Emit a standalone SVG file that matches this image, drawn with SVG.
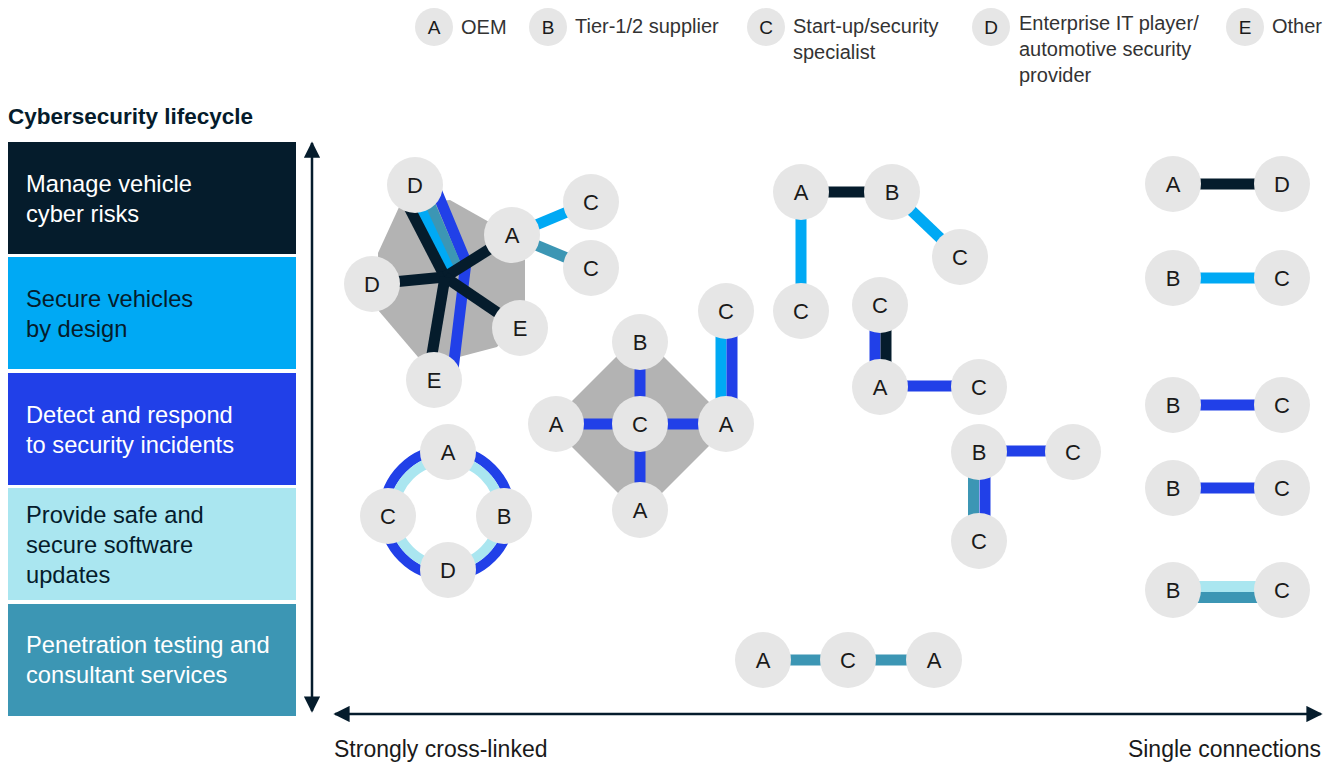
<svg xmlns="http://www.w3.org/2000/svg" width="1340" height="762" viewBox="0 0 1340 762">
<style>
text{font-family:"Liberation Sans",Arial,sans-serif;}
.n circle{fill:#e6e6e6;}
.n text{font-size:22px;fill:#1a1a1a;text-anchor:middle;}
.lg circle{fill:#e6e6e6;}
.lg .l{font-size:19px;fill:#1a1a1a;text-anchor:middle;}
.lg .t{font-size:20px;fill:#333;}
.bx{font-size:23.7px;}
.w{fill:#ffffff;}
.k{fill:#051c2c;}
.e{fill:none;stroke-width:11;}
.nv{stroke:#051c2c;}
.cy{stroke:#00a9f4;}
.bl{stroke:#2140e8;}
.lc{stroke:#aae6f0;}
.tl{stroke:#3c96b4;}
.poly{fill:#b3b3b3;}
.ax{stroke:#051c2c;stroke-width:2.5;fill:none;}
</style>
<defs>
<marker id="ah" viewBox="0 0 10 10" refX="9" refY="5" markerWidth="6.5" markerHeight="6.5" markerUnits="strokeWidth" orient="auto-start-reverse">
<path d="M0,0 L10,5 L0,10 Z" fill="#051c2c"/>
</marker>
</defs>
<rect width="1340" height="762" fill="#ffffff"/>

<!-- Legend -->
<g id="legend" class="lg">
<circle cx="434" cy="27" r="19"/><text class="l" x="434" y="34">A</text>
<text class="t" x="461" y="34">OEM</text>
<circle cx="548" cy="27" r="19"/><text class="l" x="548" y="34">B</text>
<text class="t" x="575" y="33">Tier-1/2 supplier</text>
<circle cx="766" cy="27" r="19"/><text class="l" x="766" y="34">C</text>
<text class="t" x="793" y="33">Start-up/security</text>
<text class="t" x="793" y="59">specialist</text>
<circle cx="991" cy="27" r="19"/><text class="l" x="991" y="34">D</text>
<text class="t" x="1019" y="30">Enterprise IT player/</text>
<text class="t" x="1019" y="56">automotive security</text>
<text class="t" x="1019" y="82">provider</text>
<circle cx="1245" cy="27" r="19"/><text class="l" x="1245" y="34">E</text>
<text class="t" x="1272" y="33">Other</text>
</g>

<!-- Lifecycle column -->
<g id="lifecycle">
<text x="8" y="124" style="font-size:22.5px;font-weight:bold;fill:#051c2c">Cybersecurity lifecycle</text>
<g id="box1"><rect x="8" y="142" width="288" height="112" fill="#051c2c"/>
<text class="bx w" x="26" y="192">Manage vehicle</text><text class="bx w" x="26" y="222">cyber risks</text></g>
<g id="box2"><rect x="8" y="257" width="288" height="112" fill="#00a9f4"/>
<text class="bx k" x="26" y="307">Secure vehicles</text><text class="bx k" x="26" y="337">by design</text></g>
<g id="box3"><rect x="8" y="373" width="288" height="112" fill="#2140e8"/>
<text class="bx w" x="26" y="423">Detect and respond</text><text class="bx w" x="26" y="453">to security incidents</text></g>
<g id="box4"><rect x="8" y="488" width="288" height="112" fill="#aae6f0"/>
<text class="bx k" x="26" y="523">Provide safe and</text><text class="bx k" x="26" y="553">secure software</text><text class="bx k" x="26" y="583">updates</text></g>
<g id="box5"><rect x="8" y="604" width="288" height="112" fill="#3c96b4"/>
<text class="bx w" x="26" y="653">Penetration testing and</text><text class="bx w" x="26" y="683">consultant services</text></g>
</g>

<!-- Axes -->
<g id="axes">
<line class="ax" x1="312" y1="143" x2="312" y2="711" marker-start="url(#ah)" marker-end="url(#ah)"/>
<line class="ax" x1="335" y1="714" x2="1321" y2="714" marker-start="url(#ah)" marker-end="url(#ah)"/>
<text x="334" y="757" style="font-size:23px;fill:#1a1a1a">Strongly cross-linked</text>
<text x="1321" y="757" style="font-size:23px;fill:#1a1a1a;text-anchor:end">Single connections</text>
</g>

<!-- Shaded cluster areas -->
<g id="areas">
<polygon class="poly" points="400,205 450,200 512,235 525,260 525,312 497,347 440,362 418,357 378,310 378,253"/>
<polygon class="poly" points="640,333 731,424 640,515 549,424"/>
</g>

<!-- Connectors -->
<g id="connectors">
<!-- cluster 1 -->
<polyline class="e bl" points="432,180 466,262 452,378"/>
<line class="e tl" x1="420" y1="182" x2="457" y2="268"/>
<line class="e cy" x1="408" y1="182" x2="450" y2="272"/>
<line class="e nv" x1="396" y1="182" x2="445" y2="277"/>
<line class="e nv" x1="445" y1="277" x2="372" y2="284"/>
<line class="e nv" x1="445" y1="277" x2="512" y2="235"/>
<line class="e nv" x1="445" y1="277" x2="520" y2="328"/>
<line class="e nv" x1="445" y1="277" x2="428" y2="378"/>
<line class="e cy" x1="512" y1="235" x2="591" y2="202"/>
<line class="e tl" x1="512" y1="235" x2="591" y2="268"/>
<!-- ring -->
<circle class="bl" cx="447" cy="513" r="63" fill="none" stroke-width="10"/>
<circle class="lc" cx="447" cy="513" r="53" fill="none" stroke-width="10"/>
<!-- diamond -->
<line class="e bl" x1="640" y1="342" x2="640" y2="510"/>
<line class="e bl" x1="556" y1="424" x2="727" y2="424"/>
<line class="e cy" x1="721" y1="311" x2="721" y2="424"/>
<line class="e bl" x1="732" y1="311" x2="732" y2="424"/>
<!-- cluster 4 -->
<line class="e nv" x1="801" y1="192" x2="892" y2="192"/>
<line class="e cy" x1="801" y1="192" x2="801" y2="310"/>
<line class="e cy" x1="892" y1="192" x2="960" y2="257"/>
<!-- cluster 5 -->
<line class="e bl" x1="875" y1="305" x2="875" y2="387"/>
<line class="e nv" x1="886" y1="305" x2="886" y2="387"/>
<line class="e bl" x1="880" y1="386" x2="979" y2="386"/>
<!-- cluster 6 -->
<line class="e bl" x1="979" y1="451" x2="1073" y2="451"/>
<line class="e tl" x1="973.5" y1="452" x2="973.5" y2="541"/>
<line class="e bl" x1="985" y1="452" x2="985" y2="541"/>
<!-- bottom -->
<line class="e tl" x1="763" y1="660" x2="934" y2="660"/>
<!-- right column -->
<line class="e nv" x1="1173" y1="184" x2="1282" y2="184"/>
<line class="e cy" x1="1173" y1="278" x2="1282" y2="278"/>
<line class="e bl" x1="1173" y1="405" x2="1282" y2="405"/>
<line class="e bl" x1="1173" y1="488" x2="1282" y2="488"/>
<line class="e lc" x1="1173" y1="586.5" x2="1282" y2="586.5"/>
<line class="e tl" x1="1173" y1="597.5" x2="1282" y2="597.5"/>
</g>

<!-- Nodes -->
<g id="n1" class="n"><circle cx="415" cy="185" r="28"/><text x="415" y="193">D</text></g>
<g id="n2" class="n"><circle cx="512" cy="235" r="28"/><text x="512" y="243">A</text></g>
<g id="n3" class="n"><circle cx="591" cy="202" r="28"/><text x="591" y="210">C</text></g>
<g id="n4" class="n"><circle cx="591" cy="268" r="28"/><text x="591" y="276">C</text></g>
<g id="n5" class="n"><circle cx="372" cy="284" r="28"/><text x="372" y="292">D</text></g>
<g id="n6" class="n"><circle cx="520" cy="328" r="28"/><text x="520" y="336">E</text></g>
<g id="n7" class="n"><circle cx="434" cy="380" r="28"/><text x="434" y="388">E</text></g>

<g id="n8" class="n"><circle cx="448" cy="452" r="28"/><text x="448" y="460">A</text></g>
<g id="n9" class="n"><circle cx="388" cy="516" r="28"/><text x="388" y="524">C</text></g>
<g id="n10" class="n"><circle cx="504" cy="516" r="28"/><text x="504" y="524">B</text></g>
<g id="n11" class="n"><circle cx="448" cy="570" r="28"/><text x="448" y="578">D</text></g>

<g id="n12" class="n"><circle cx="640" cy="342" r="28"/><text x="640" y="350">B</text></g>
<g id="n13" class="n"><circle cx="556" cy="424" r="28"/><text x="556" y="432">A</text></g>
<g id="n14" class="n"><circle cx="640" cy="424" r="28"/><text x="640" y="432">C</text></g>
<g id="n15" class="n"><circle cx="726" cy="424" r="28"/><text x="726" y="432">A</text></g>
<g id="n16" class="n"><circle cx="640" cy="510" r="28"/><text x="640" y="518">A</text></g>
<g id="n17" class="n"><circle cx="726" cy="311" r="28"/><text x="726" y="319">C</text></g>

<g id="n18" class="n"><circle cx="801" cy="192" r="28"/><text x="801" y="200">A</text></g>
<g id="n19" class="n"><circle cx="892" cy="192" r="28"/><text x="892" y="200">B</text></g>
<g id="n20" class="n"><circle cx="960" cy="257" r="28"/><text x="960" y="265">C</text></g>
<g id="n21" class="n"><circle cx="801" cy="311" r="28"/><text x="801" y="319">C</text></g>

<g id="n22" class="n"><circle cx="880" cy="305" r="28"/><text x="880" y="313">C</text></g>
<g id="n23" class="n"><circle cx="880" cy="387" r="28"/><text x="880" y="395">A</text></g>
<g id="n24" class="n"><circle cx="979" cy="387" r="28"/><text x="979" y="395">C</text></g>

<g id="n25" class="n"><circle cx="979" cy="452" r="28"/><text x="979" y="460">B</text></g>
<g id="n26" class="n"><circle cx="1073" cy="452" r="28"/><text x="1073" y="460">C</text></g>
<g id="n27" class="n"><circle cx="979" cy="541" r="28"/><text x="979" y="549">C</text></g>

<g id="n28" class="n"><circle cx="763" cy="660" r="28"/><text x="763" y="668">A</text></g>
<g id="n29" class="n"><circle cx="848" cy="660" r="28"/><text x="848" y="668">C</text></g>
<g id="n30" class="n"><circle cx="934" cy="660" r="28"/><text x="934" y="668">A</text></g>

<g id="n31" class="n"><circle cx="1173" cy="184" r="28"/><text x="1173" y="192">A</text></g>
<g id="n32" class="n"><circle cx="1282" cy="184" r="28"/><text x="1282" y="192">D</text></g>
<g id="n33" class="n"><circle cx="1173" cy="278" r="28"/><text x="1173" y="286">B</text></g>
<g id="n34" class="n"><circle cx="1282" cy="278" r="28"/><text x="1282" y="286">C</text></g>
<g id="n35" class="n"><circle cx="1173" cy="405" r="28"/><text x="1173" y="413">B</text></g>
<g id="n36" class="n"><circle cx="1282" cy="405" r="28"/><text x="1282" y="413">C</text></g>
<g id="n37" class="n"><circle cx="1173" cy="488" r="28"/><text x="1173" y="496">B</text></g>
<g id="n38" class="n"><circle cx="1282" cy="488" r="28"/><text x="1282" y="496">C</text></g>
<g id="n39" class="n"><circle cx="1173" cy="590" r="28"/><text x="1173" y="598">B</text></g>
<g id="n40" class="n"><circle cx="1282" cy="590" r="28"/><text x="1282" y="598">C</text></g>
</svg>
